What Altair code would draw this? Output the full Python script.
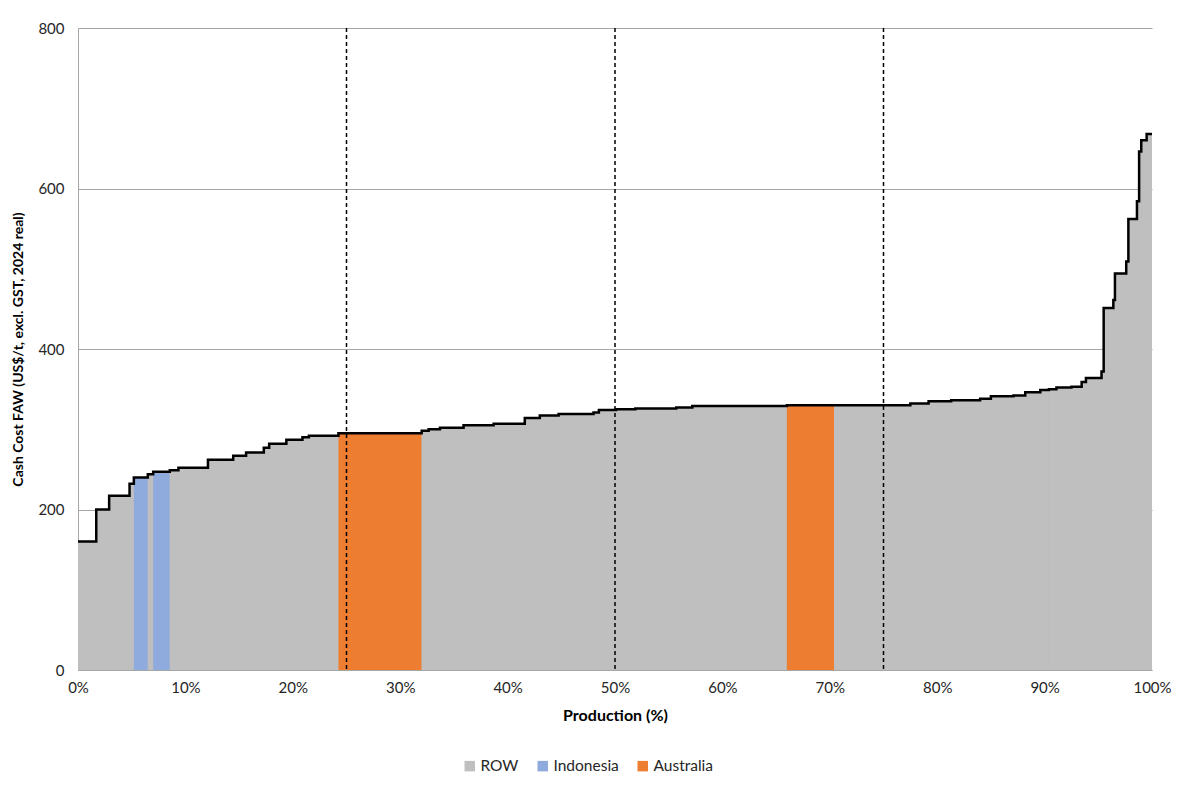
import altair as alt
import pandas as pd

# Cost curve segments: start of each step (% of cumulative production), cash cost, region
seg_start = [0, 1.7, 2.9, 4.8, 5.2, 6.5, 7.0, 8.55, 9.35, 12.1, 14.45, 15.65, 17.3, 17.8,
             19.4, 20.9, 21.5, 24.25, 32.0, 32.65, 33.7, 35.9, 38.7, 41.6, 43.0, 44.75,
             48.0, 48.5, 50.1, 51.9, 55.7, 57.2, 66.0, 70.4, 77.5, 79.2, 81.3, 84.0, 85.0,
             87.1, 88.2, 89.6, 90.4, 91.1, 92.5, 93.45, 93.85, 95.3, 95.5, 96.4, 96.55,
             97.6, 97.8, 98.6, 98.8, 99.0, 99.5]
seg_cost = [160, 200, 217, 232, 240, 244, 247, 249, 252, 262, 267, 271, 277, 282,
            287, 290, 292, 295, 298, 300, 302, 305, 307, 314, 317, 319,
            321, 324, 325, 326, 327, 329, 330, 330, 332, 335, 336, 338, 341,
            342, 346, 349, 350, 352, 353, 359, 364, 372, 451, 461, 494,
            509, 562, 584, 646, 660, 668]
seg_region = ["ROW", "ROW", "ROW", "ROW", "Indonesia", "ROW", "Indonesia", "ROW", "ROW", "ROW",
              "ROW", "ROW", "ROW", "ROW", "ROW", "ROW", "ROW", "Australia", "ROW", "ROW",
              "ROW", "ROW", "ROW", "ROW", "ROW", "ROW", "ROW", "ROW", "ROW", "ROW", "ROW",
              "ROW", "Australia", "ROW", "ROW", "ROW", "ROW", "ROW", "ROW", "ROW", "ROW",
              "ROW", "ROW", "ROW", "ROW", "ROW", "ROW", "ROW", "ROW", "ROW", "ROW", "ROW",
              "ROW", "ROW", "ROW", "ROW", "ROW"]
x_end = 100
quartiles = [25, 50, 75]

regions = ["ROW", "Indonesia", "Australia"]
region_colors = ["#BFBFBF", "#8FAADC", "#ED7D31"]

seg_end = seg_start[1:] + [x_end]
bars = pd.DataFrame({"start": seg_start, "end": seg_end, "cost": seg_cost, "region": seg_region})
line = pd.DataFrame({"start": seg_start + [x_end], "cost": seg_cost + [seg_cost[-1]]})
qdf = pd.DataFrame({"start": quartiles})

FONT = "Lato"
x_axis = alt.Axis(values=list(range(0, 101, 10)), labelExpr="datum.value + '%'",
                  title="Production (%)", grid=False, ticks=False, labelPadding=10,
                  labelFlush=False, labelOverlap=False,
                  labelFontSize=15, titleFontSize=16, titleFontWeight="bold",
                  titlePadding=12, domainColor="#A6A6A6", labelColor="#262626",
                  titleColor="#000000", labelFont=FONT, titleFont=FONT)
y_axis = alt.Axis(values=[0, 200, 400, 600, 800], title="Cash Cost FAW (US$/t, excl. GST, 2024 real)",
                  grid=True, gridColor="#A6A6A6", gridWidth=1, ticks=False, labelPadding=14,
                  labelFlush=False,
                  labelFontSize=15, titleFontSize=14, titleFontWeight="bold", titlePadding=12,
                  domainColor="#A6A6A6", labelColor="#262626", titleColor="#000000",
                  labelFont=FONT, titleFont=FONT)

xs = alt.Scale(domain=[0, 100], nice=False, zero=False)
ys = alt.Scale(domain=[0, 800], nice=False)

# gray base under the whole curve so adjoining segments show no seams
base = alt.Chart(line).mark_area(interpolate="step-after", color="#BFBFBF").encode(
    x=alt.X("start:Q", scale=xs, axis=x_axis),
    y=alt.Y("cost:Q", scale=ys, axis=y_axis),
)

rects = alt.Chart(bars).mark_rect().encode(
    x=alt.X("start:Q", scale=xs, axis=x_axis),
    x2="end:Q",
    y=alt.Y("cost:Q", scale=ys, axis=y_axis),
    y2=alt.datum(0),
    color=alt.Color("region:N", scale=alt.Scale(domain=regions, range=region_colors),
                    legend=alt.Legend(title=None, orient="none", direction="horizontal",
                                      legendX=384, legendY=730, symbolType="square",
                                      symbolSize=110, symbolStrokeWidth=0, labelFontSize=15.5,
                                      labelFont=FONT, labelColor="#262626", columnPadding=16,
                                      labelOffset=3)),
)

steps = alt.Chart(line).mark_line(interpolate="step-after", color="black", strokeWidth=2.5).encode(
    x=alt.X("start:Q", scale=xs, axis=x_axis),
    y=alt.Y("cost:Q", scale=ys, axis=y_axis),
)

rules = alt.Chart(qdf).mark_rule(color="black", strokeDash=[4, 3], strokeWidth=1.5).encode(
    x=alt.X("start:Q", scale=xs, axis=x_axis),
)

chart = alt.layer(base, rects, steps, rules).properties(
    width=1074, height=642,
    autosize=alt.AutoSizeParams(type="none"),
    padding={"left": 70, "top": 20, "right": 24, "bottom": 104},
).configure_view(stroke=None)

chart.save("out.html", embed_options={"renderer": "svg", "actions": False})
